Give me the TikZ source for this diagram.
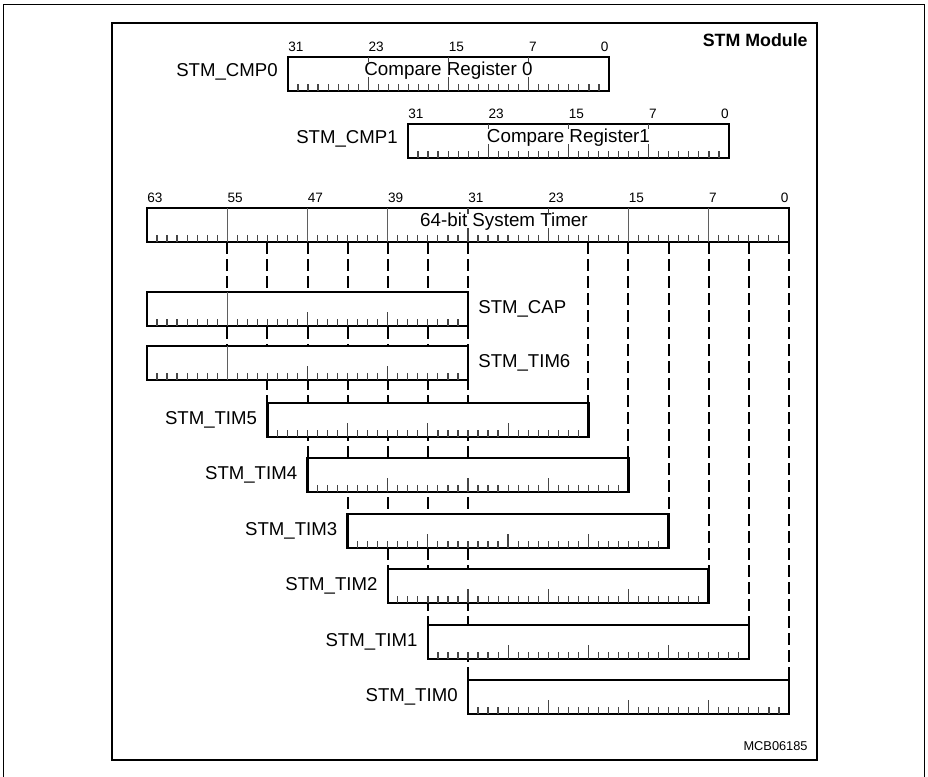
\documentclass[tikz,border=0pt]{standalone}
\usepackage{fontspec}
\setmainfont{Liberation Sans}
\usetikzlibrary{positioning, backgrounds}
\definecolor{tickgray}{RGB}{70,70,70}
\definecolor{divgray}{RGB}{95,95,95}
\tikzset{
  regbox/.style={rectangle, draw=black, fill=white, line width=1.3pt,
    minimum width=160.48pt, minimum height=17pt, inner sep=0pt,
    outer sep=0pt, anchor=north west},
  regname/.style={font=\fontsize{9.3}{11}\selectfont, inner sep=0pt},
  boxtext/.style={font=\fontsize{9.4}{11}\selectfont, inner sep=0pt},
  bitnum/.style={font=\fontsize{6.8}{8}\selectfont, inner sep=0pt},
  tick/.style={draw=tickgray, line width=0.6pt},
  divider/.style={draw=divgray, line width=0.7pt},
  guide/.style={line width=1pt, dash pattern=on 6pt off 2.5pt},
  frame/.style={line width=1.2pt},
  regticks/.pic={
    \foreach \i in {1,...,31}{
      \pgfmathsetmacro\tlen{mod(\i,8)==0 ? 14 : 7}
      \draw[tick] (\i*10.03,0) -- ++(0,-\tlen);
    }
  }
}

\begin{document}
\begin{tikzpicture}[x=0.5pt, y=-0.5pt]
  \useasboundingbox (0,0) rectangle (928,777);

  % Page border and frame
  \draw[line width=0.5pt] (3,777) -- (3,4) -- (924,4) -- (924,777);
  \draw[frame] (112,23) rectangle (817,760);
  \node[font=\bfseries\fontsize{8.9}{10}\selectfont, anchor=north east,
    inner sep=0pt] (title) at (808,33) {STM Module};
  \node[font=\fontsize{6.4}{7}\selectfont, anchor=south east,
    inner sep=0pt] (figid) at (808,751) {MCB06185};

  % Compare registers
  \node[regbox] (cmp0) at (288,57) {};
  \node[regbox] (cmp1) at (408,124) {};
  \node[regname, left=5pt of cmp0, yshift=1pt] (cmp0name) {STM\_CMP0};
  \node[regname, left=5pt of cmp1, yshift=1pt] (cmp1name) {STM\_CMP1};
  \node[boxtext, yshift=1.5pt] (cmp0text) at (cmp0.center) {Compare Register 0};
  \node[boxtext, yshift=1.5pt] (cmp1text) at (cmp1.center) {Compare Register1};
  \foreach \r in {cmp0,cmp1}{
    \pic at (\r.south west) {regticks};
    \begin{scope}[shift={(\r.north west)}]
      \foreach \i in {8,16,24}
        \draw[tick] (\i*10.03,0) -- ++(0,5);
      \foreach \n/\i in {31/0,23/8,15/16,7/24}
        \node[bitnum, anchor=base west] (\r n\n) at (\i*10.03,-6) {\n};
      \node[bitnum, anchor=base east] (\r n0) at (320.96,-6) {0};
    \end{scope}
  }

  % 64-bit system timer
  \node[regbox, minimum width=320.96pt] (timer) at (147,208) {};
  \node[boxtext, yshift=1.5pt] (timertext) at ([xshift=18pt]timer.center) {64-bit System Timer};
  \begin{scope}[shift={(timer.south west)}]
    \foreach \i in {1,...,63}{
      \pgfmathsetmacro\tlen{mod(\i,8)==0 ? 14 : 7}
      \draw[tick] (\i*10.03,0) -- ++(0,-\tlen);
    }
    \foreach \i in {8,16,24,48,56}
      \draw[divider] (\i*10.03,0) -- ++(0,-34);
    \foreach \i in {32,40}
      \draw[tick] (\i*10.03,-34) -- ++(0,6);
    \foreach \n/\i in {63/0,55/8,47/16,39/24,31/32,23/40,15/48,7/56}
      \node[bitnum, anchor=base west] (tn\n) at (\i*10.03,-40) {\n};
    \node[bitnum, anchor=base east] (tn0) at (641.92,-40) {0};
    \coordinate (b56) at (80.24,0);
  \end{scope}

  % Capture and timer registers
  \node[regbox] (cap) at (147,292) {};
  \node[regbox] (tim6) at (147,346) {};
  \node[regbox] (tim5) at (267.4,403) {};
  \node[regbox] (tim4) at (307.5,458) {};
  \node[regbox] (tim3) at (347.6,514) {};
  \node[regbox] (tim2) at (387.8,569) {};
  \node[regbox] (tim1) at (427.9,625) {};
  \node[regbox] (tim0) at (468,680) {};
  \node[regname, right=5pt of cap] (capname) {STM\_CAP};
  \node[regname, right=5pt of tim6] (tim6name) {STM\_TIM6};
  \foreach \r/\t in {tim5/STM\_TIM5,tim4/STM\_TIM4,tim3/STM\_TIM3,
                     tim2/STM\_TIM2,tim1/STM\_TIM1,tim0/STM\_TIM0}
    \node[regname, left=5pt of \r] (\r name) {\t};
  \foreach \r in {cap,tim6,tim5,tim4,tim3,tim2,tim1,tim0}
    \pic at (\r.south west) {regticks};
  \foreach \r in {cap,tim6}
    \draw[divider] (\r.north west -| b56) -- (\r.south west -| b56);

  % Dashed guides from the timer down to each register
  \begin{pgfonlayer}{background}
    \draw[guide] (timer.south -| b56) -- (tim6.south -| b56);
    \foreach \r in {tim5,tim4,tim3,tim2,tim1,tim0}{
      \draw[guide] (timer.south -| \r.north west) -- (\r.north west);
      \draw[guide] (timer.south -| \r.north east) -- (\r.north east);
    }
  \end{pgfonlayer}
\end{tikzpicture}
\end{document}
